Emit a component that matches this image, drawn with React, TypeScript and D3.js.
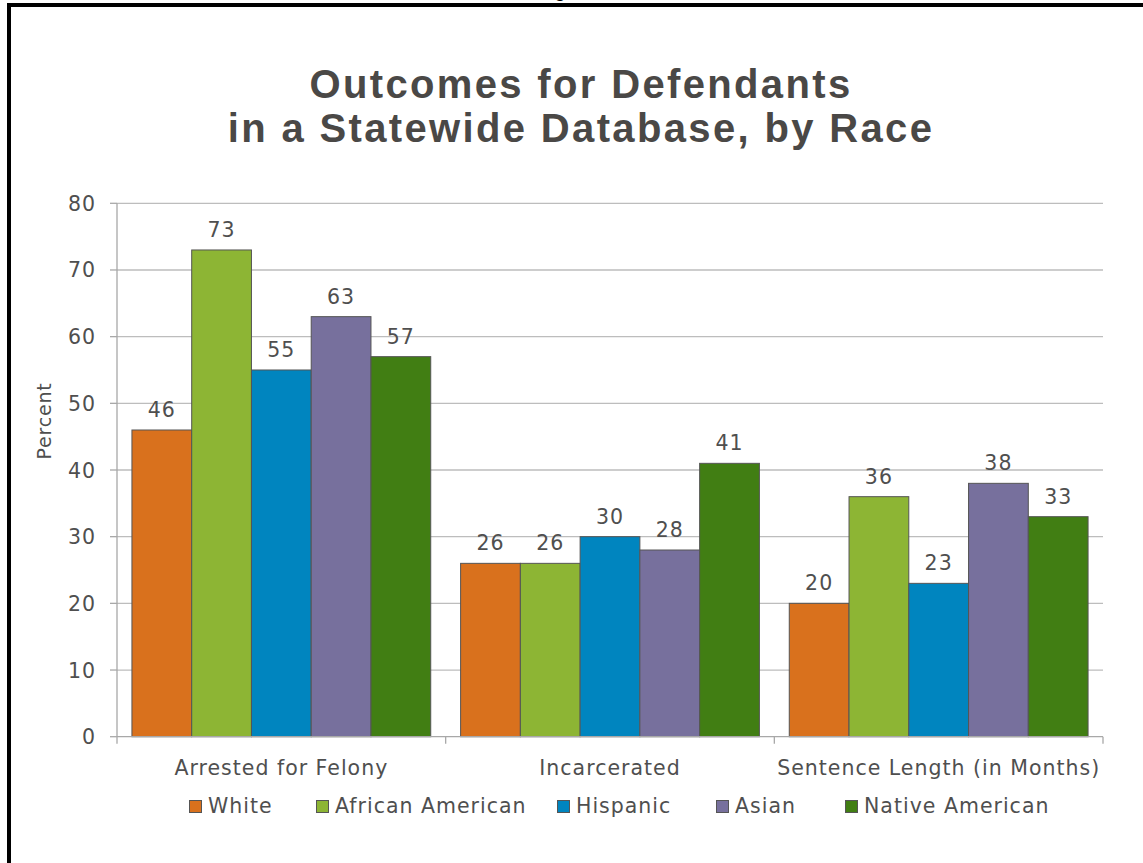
import React from "react";
import * as d3 from "d3";

const categories = ["Arrested for Felony", "Incarcerated", "Sentence Length (in Months)"];
const races = ["White", "African American", "Hispanic", "Asian", "Native American"];
const raceColors = ["#D9711D", "#8DB534", "#0085BF", "#77709D", "#417E13"];
// values[race][category]
const white = [46, 26, 20];
const africanAmerican = [73, 26, 36];
const hispanic = [55, 30, 23];
const asian = [63, 28, 38];
const nativeAmerican = [57, 41, 33];
const seriesValues = [white, africanAmerican, hispanic, asian, nativeAmerican];
const yTicks = [0, 10, 20, 30, 40, 50, 60, 70, 80];
const titleLines = ["Outcomes for Defendants", "in a Statewide Database, by Race"];
const yLabel = "Percent";

const W = 1143;
const H = 863;
const plot = { left: 117, right: 1103, top: 203.3, bottom: 736.7 };
const textColor = "#4f4f4f";
const bodyFont = "'DejaVu Sans', Verdana, sans-serif";
const bodySize = 20.5;
const bodySpacing = 1;

export default function App() {
  const x0 = d3
    .scaleBand<string>()
    .domain(categories)
    .range([plot.left, plot.right])
    .paddingInner(0)
    .paddingOuter(0);
  const groupPad = x0.bandwidth() / (races.length + 0.5) / 4;
  const x1 = d3
    .scaleBand<string>()
    .domain(races)
    .range([groupPad, x0.bandwidth() - groupPad])
    .padding(0);
  const y = d3.scaleLinear().domain([0, 80]).range([plot.bottom, plot.top]);

  const legendX = [189, 316, 557, 716, 845];

  return (
    <svg
      width={W}
      height={H}
      style={{ position: "absolute", left: 0, top: 0, display: "block", background: "#fff" }}
      fontFamily={bodyFont}
    >
      <rect x={0} y={0} width={W} height={H} fill="#fff" />
      {/* frame edges */}
      <rect x={7} y={3} width={W - 7} height={4} fill="#000" />
      <rect x={7} y={3} width={4} height={H - 3} fill="#000" />
      <text
        x={560}
        y={-3}
        textAnchor="middle"
        fontFamily="'Liberation Sans', Arial, sans-serif"
        fontWeight="bold"
        fontSize={18}
        fill="#000"
      >
        g
      </text>

      {/* title */}
      {titleLines.map((t, i) => (
        <text
          key={t}
          x={581}
          y={97.5 + i * 44.5}
          textAnchor="middle"
          fontFamily="'Liberation Sans', Arial, sans-serif"
          fontWeight="bold"
          fontSize={40}
          letterSpacing={2.35}
          fill="#4a4846"
        >
          {t}
        </text>
      ))}

      {/* gridlines */}
      {yTicks.map((t) => (
        <g key={t}>
          {t > 0 && (
            <line x1={plot.left} x2={plot.right} y1={y(t)} y2={y(t)} stroke="#bdbdbd" strokeWidth={1.3} />
          )}
          <line x1={plot.left - 7} x2={plot.left} y1={y(t)} y2={y(t)} stroke="#a8a8a8" strokeWidth={1.3} />
          <text
            x={96}
            y={y(t) + 7.5}
            textAnchor="end"
            fontSize={bodySize}
            letterSpacing={bodySpacing}
            fill={textColor}
          >
            {t}
          </text>
        </g>
      ))}

      {/* y axis line */}
      <line x1={plot.left} x2={plot.left} y1={plot.top} y2={plot.bottom} stroke="#a8a8a8" strokeWidth={1.3} />

      {/* bars */}
      {categories.map((c, ci) => (
        <g key={c} transform={`translate(${x0(c)},0)`}>
          {races.map((r, ri) => {
            const v = seriesValues[ri][ci];
            const bx = x1(r)!;
            return (
              <g key={r}>
                <rect
                  x={bx}
                  y={y(v)}
                  width={x1.bandwidth()}
                  height={y(0) - y(v)}
                  fill={raceColors[ri]}
                  stroke="#555"
                  strokeWidth={1}
                />
                <text
                  x={bx + x1.bandwidth() / 2}
                  y={y(v) - 13}
                  textAnchor="middle"
                  fontSize={bodySize}
                  letterSpacing={bodySpacing}
                  fill={textColor}
                >
                  {v}
                </text>
              </g>
            );
          })}
        </g>
      ))}

      {/* x axis */}
      <line x1={plot.left} x2={plot.right} y1={plot.bottom} y2={plot.bottom} stroke="#a8a8a8" strokeWidth={1.3} />
      {[plot.left, ...categories.map((c) => x0(c)! + x0.bandwidth())].map((px, i) => (
        <line key={i} x1={px} x2={px} y1={plot.bottom} y2={plot.bottom + 7} stroke="#a8a8a8" strokeWidth={1.3} />
      ))}
      {categories.map((c) => (
        <text
          key={c}
          x={x0(c)! + x0.bandwidth() / 2}
          y={775}
          textAnchor="middle"
          fontSize={bodySize}
          letterSpacing={bodySpacing}
          fill={textColor}
        >
          {c}
        </text>
      ))}

      {/* y axis title */}
      <text
        transform={`translate(51,421) rotate(-90)`}
        textAnchor="middle"
        fontSize={19}
        letterSpacing={0.8}
        fill={textColor}
      >
        {yLabel}
      </text>

      {/* legend */}
      {races.map((r, i) => (
        <g key={r} transform={`translate(${legendX[i]},800)`}>
          <rect x={0.5} y={0.5} width={12} height={12} fill={raceColors[i]} stroke="#555" strokeWidth={1} />
          <text x={19} y={13} fontSize={bodySize} letterSpacing={bodySpacing} fill={textColor}>
            {r}
          </text>
        </g>
      ))}
    </svg>
  );
}
